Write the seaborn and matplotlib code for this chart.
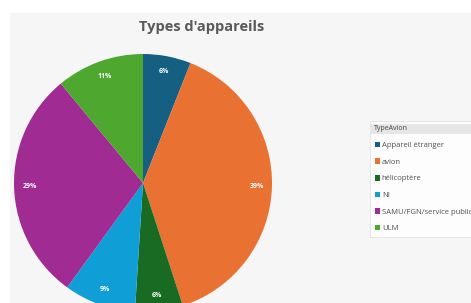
import seaborn as sns
import matplotlib.pyplot as plt
from matplotlib.patches import Rectangle

# data
types = ["Appareil étranger", "avion", "hélicoptère", "NI", "SAMU/FGN/service public", "ULM"]
shares = [6, 39, 6, 9, 29, 11]
colors = ["#156082", "#E97132", "#196B24", "#0F9ED5", "#A02B93", "#4EA72E"]


def pie_chart():
    sns.set_theme(style="white")
    plt.rcParams["font.family"] = ["Open Sans", "DejaVu Sans"]
    palette = sns.color_palette(colors)

    fig = plt.figure(figsize=(4.71, 3.03), dpi=100)
    fig.patch.set_facecolor("white")
    fig.patches.append(Rectangle((10 / 471, 0), 1, 1 - 13 / 303, transform=fig.transFigure,
                                 facecolor="#f6f6f6", edgecolor="none", zorder=-5))

    ax = fig.add_axes([14 / 471, (303 - 312) / 303, 258 / 471, 258 / 303])
    ax.set_zorder(2)
    wedges, texts, autotexts = ax.pie(
        shares, colors=palette, startangle=90, counterclock=False,
        autopct="%1.0f%%", pctdistance=0.88, radius=1,
        wedgeprops={"linewidth": 0},
        textprops={"color": "white", "fontsize": 5, "fontweight": "bold"},
    )
    ax.set_xlim(-1, 1)
    ax.set_ylim(-1, 1)
    ax.set_aspect("equal")
    ax.axis("off")

    fig.text(202 / 471, 1 - 27 / 303, "Types d'appareils", ha="center", va="center",
             fontsize=10.5, fontweight="bold", color="#595959")

    leg = fig.legend(wedges, types, title=" ", loc="upper left",
                     bbox_to_anchor=(370 / 471, 1 - 121 / 303), fontsize=5.5,
                     title_fontsize=5, handlelength=0.75, handleheight=0.75,
                     handletextpad=0.2, labelspacing=1.2, alignment="left",
                     frameon=True, fancybox=False, borderpad=0.6, borderaxespad=0)
    leg._legend_box.align = "left"
    leg.set_zorder(3)
    leg.get_frame().set_edgecolor("#dddddd")
    leg.get_frame().set_linewidth(0.6)
    leg.get_frame().set_facecolor("white")
    for t in leg.get_texts():
        t.set_color("#505050")

    # grey header bar of the legend with its field name
    fig.patches.append(Rectangle((371 / 471, 1 - 134 / 303), 1, 10 / 303, transform=fig.transFigure,
                                 facecolor="#e6e6e6", edgecolor="none", zorder=4))
    fig.text(374 / 471, 1 - 129 / 303, "TypeAvion", ha="left", va="center",
             fontsize=5, color="#404040", zorder=5)

    plt.savefig("out.png", dpi=100)


if __name__ == '__main__':
    pie_chart()
